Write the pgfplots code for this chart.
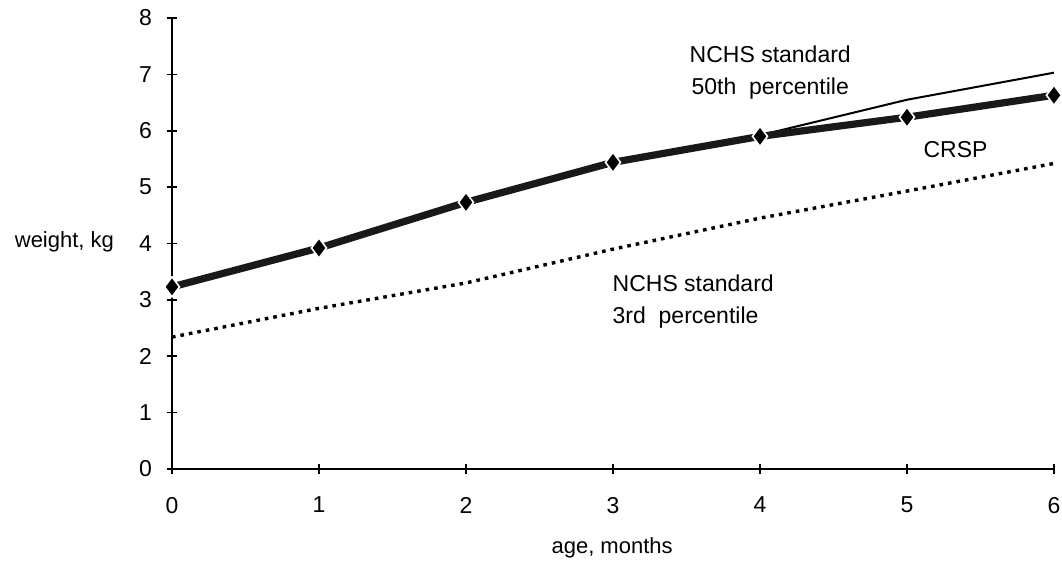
\documentclass[border=0pt]{standalone}
\usepackage{pgfplots}
\pgfplotsset{compat=1.18}
\usepackage{fontspec}
\setmainfont{Liberation Sans}
\begin{document}
\begin{tikzpicture}[font=\fontsize{11}{13}\selectfont]
\useasboundingbox (-86pt,-48pt) rectangle (445pt,234.5pt);
\begin{axis}[
  at={(0,0)}, anchor=south west,
  scale only axis, width=441pt, height=225.5pt,
  xmin=0, xmax=6, ymin=0, ymax=8,
  axis lines=left, axis line style={-, line width=1pt},
  xtick={0,1,2,3,4,5,6}, ytick={0,1,2,3,4,5,6,7,8},
  tick align=center, major tick length=5pt,
  tick style={line width=0.8pt, black},
  /pgf/number format/assume math mode=true,
  ticklabel style={font=\fontsize{11.5}{13}\selectfont},
  xticklabel style={yshift=-8pt},
  yticklabel style={xshift=-4pt},
  clip=false,
  every axis x label/.style={at={(rel axis cs:0.499,-0.175)}, anchor=center},
  every axis y label/.style={at={(rel axis cs:-0.122,0.503)}, anchor=center},
  xlabel={age, months}, ylabel={weight, kg},
]
% NCHS 3rd percentile
\addplot[black, line width=1.7pt, dash pattern=on 1.8pt off 2.5pt] coordinates {
 (0,2.34) (1,2.85) (2,3.30) (3,3.90) (4,4.45) (5,4.93) (6,5.42)};
% NCHS 50th percentile
\addplot[black, line width=1pt] coordinates {
 (0,3.23) (1,3.92) (2,4.73) (3,5.43) (4,5.92) (5,6.55) (6,7.03)};
% CRSP
\addplot[black!90, line width=3.6pt, mark=diamond*, mark size=5pt,
  mark options={fill=black, draw=white, line width=0.8pt}] coordinates {
 (0,3.23) (1,3.92) (2,4.73) (3,5.44) (4,5.90) (5,6.24) (6,6.63)};
\node[align=center, font=\fontsize{11.5}{16}\selectfont] at (axis cs:4.07,7.03) {NCHS standard\\50th\ \ percentile};
\node[font=\fontsize{11.5}{14}\selectfont] at (axis cs:5.33,5.66) {CRSP};
\node[align=left, anchor=west, font=\fontsize{11.5}{16}\selectfont] at (axis cs:2.95,2.97) {NCHS standard\\3rd\ \ percentile};
\end{axis}
\end{tikzpicture}
\end{document}
